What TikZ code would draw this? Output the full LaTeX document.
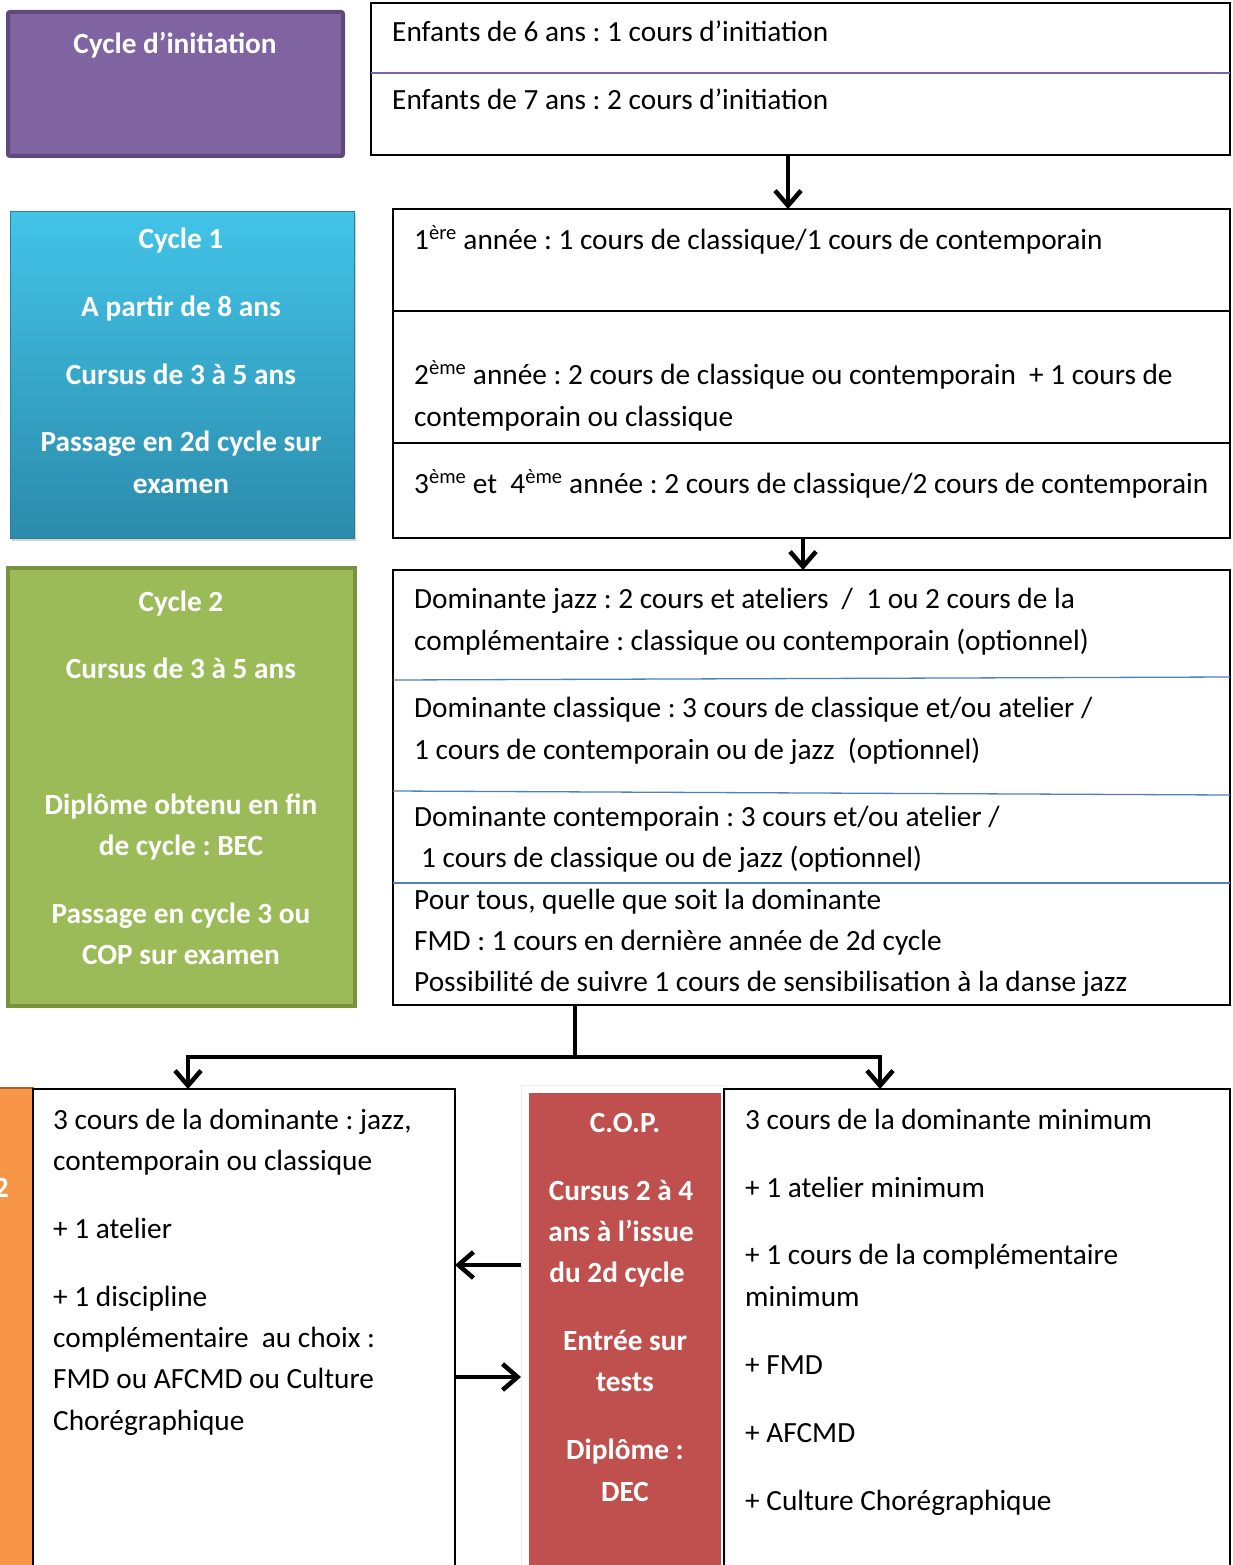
\documentclass[tikz,border=0pt]{standalone}
\usepackage{fontspec}
\setmainfont{Carlito}
\usetikzlibrary{arrows.meta, positioning, shadows}
\frenchspacing

\definecolor{initviolet}{HTML}{8064A2}
\definecolor{initedge}{HTML}{5E4B7E}
\definecolor{cyctop}{HTML}{42C4E8}
\definecolor{cycbot}{HTML}{2C8BAB}
\definecolor{cycedge}{HTML}{2A7F9C}
\definecolor{greenfill}{HTML}{9BBB59}
\definecolor{greenedge}{HTML}{77933C}
\definecolor{orangefill}{HTML}{F79646}
\definecolor{orangeedge}{HTML}{A8632B}
\definecolor{copred}{HTML}{C0504D}
\definecolor{lineblue}{HTML}{4F81BD}

\begin{document}
\begin{tikzpicture}[x=1pt, y=-1pt, >={Straight Barb[length=15pt,width=26pt]},
    tab/.style={draw=black, line width=1.3pt, anchor=north west, inner sep=0pt, outer sep=0pt},
    cyc/.style={anchor=north west, inner sep=0pt, outer sep=0pt},
    txt/.style={anchor=base west, inner sep=0pt, font=\fontsize{29.3}{34}\selectfont},
    hd/.style={anchor=base, inner sep=0pt, text=white, font=\bfseries\fontsize{29.3}{34}\selectfont},
    arr/.style={->, line width=4.5pt, black}]
    \useasboundingbox (0,0) rectangle (1232,1565);
    \clip (0,0) rectangle (1232,1565);

    % 1. Cycle d'initiation
    \node[cyc, minimum width=335pt, minimum height=144pt, fill=initviolet, draw=initedge, line width=4pt, rounded corners=2pt] (initbox) at (8,12) {};
    \node[hd] (initt) at (175,54) {Cycle d’initiation};
    \node[tab, minimum width=859pt, minimum height=152pt] (inittab) at (371,3) {};
    \draw[initviolet, line width=1.3pt] (inittab.west |- 0,73) -- (inittab.east |- 0,73);
    \node[txt] (i1) at (392,42) {Enfants de 6 ans : 1 cours d’initiation};
    \node[txt] (i2) at (392,110) {Enfants de 7 ans : 2 cours d’initiation};

    % 2. Cycle 1
    \node[cyc, minimum width=344pt, minimum height=327pt, top color=cyctop, bottom color=cycbot, draw=cycedge, line width=1pt,
        drop shadow={shadow xshift=2pt, shadow yshift=-3pt, opacity=0.35}] (c1box) at (10,211) {};
    \node[hd] (c1a) at (181,248) {Cycle 1};
    \node[hd] (c1b) at (181,316) {A partir de 8 ans};
    \node[hd] (c1c) at (181,384) {Cursus de 3 à 5 ans};
    \node[hd] (c1d) at (181,451) {Passage en 2d cycle sur};
    \node[hd] (c1e) at (181,493) {examen};
    \node[tab, minimum width=837pt, minimum height=329pt] (c1tab) at (393,209) {};
    \draw[black, line width=1.3pt] (c1tab.west |- 0,311) -- (c1tab.east |- 0,311);
    \draw[black, line width=1.3pt] (c1tab.west |- 0,443) -- (c1tab.east |- 0,443);
    \node[txt] (an1) at (414,249) {1\textsuperscript{ère} année : 1 cours de classique/1 cours de contemporain};
    \node[txt] (an2) at (414,384) {2\textsuperscript{ème} année : 2 cours de classique ou contemporain \ + 1 cours de};
    \node[txt] (an2b) at (414,426) {contemporain ou classique};
    \node[txt] (an3) at (414,493) {3\textsuperscript{ème} et \ 4\textsuperscript{ème} année : 2 cours de classique/2 cours de contemporain};

    % 3. Cycle 2
    \node[cyc, minimum width=347pt, minimum height=438pt, fill=greenfill, draw=greenedge, line width=4pt] (c2box) at (8,568) {};
    \node[hd] (c2a) at (181,611) {Cycle 2};
    \node[hd] (c2b) at (181,678) {Cursus de 3 à 5 ans};
    \node[hd] (c2c) at (181,814) {Diplôme obtenu en fin};
    \node[hd] (c2d) at (181,855) {de cycle : BEC};
    \node[hd] (c2e) at (181,923) {Passage en cycle 3 ou};
    \node[hd] (c2f) at (181,964) {COP sur examen};
    \node[tab, minimum width=837pt, minimum height=435pt] (c2tab) at (393,570) {};
    \draw[lineblue, line width=1.3pt] (c2tab.west |- 0,680) -- (c2tab.east |- 0,677);
    \draw[lineblue, line width=1.3pt] (c2tab.west |- 0,791) -- (c2tab.east |- 0,795);
    \draw[lineblue, line width=1.3pt] (c2tab.west |- 0,883) -- (c2tab.east |- 0,883);
    \node[txt] (dj1) at (414,608) {Dominante jazz : 2 cours et ateliers \ / \ 1 ou 2 cours de la};
    \node[txt] (dj2) at (414,650) {complémentaire : classique ou contemporain (optionnel)};
    \node[txt] (dc1) at (414,717) {Dominante classique : 3 cours de classique et/ou atelier /};
    \node[txt] (dc2) at (414,759) {1 cours de contemporain ou de jazz \ (optionnel)};
    \node[txt] (dk1) at (414,826) {Dominante contemporain : 3 cours et/ou atelier /};
    \node[txt] (dk2) at (421,867) {1 cours de classique ou de jazz (optionnel)};
    \node[txt] (pt1) at (414,909) {Pour tous, quelle que soit la dominante};
    \node[txt] (pt2) at (414,950) {FMD : 1 cours en dernière année de 2d cycle};
    \node[txt] (pt3) at (414,991) {Possibilité de suivre 1 cours de sensibilisation à la danse jazz};

    % 4. Cycle 3 et C.O.P.
    \node[cyc, minimum width=60pt, minimum height=520pt, fill=orangefill, draw=orangeedge, line width=2pt] (c3box) at (-27,1088) {};
    \node[hd, anchor=base east] (c3a) at (9,1197) {2};
    \node[tab, minimum width=422pt, minimum height=520pt] (c3tab) at (33,1089) {};
    \node[txt] (t1) at (53,1129) {3 cours de la dominante : jazz,};
    \node[txt] (t2) at (53,1170) {contemporain ou classique};
    \node[txt] (t3) at (53,1238) {+ 1 atelier};
    \node[txt] (t4) at (53,1306) {+ 1 discipline};
    \node[txt] (t5) at (53,1347) {complémentaire \ au choix :};
    \node[txt] (t6) at (53,1388) {FMD ou AFCMD ou Culture};
    \node[txt] (t7) at (53,1430) {Chorégraphique};

    \node[cyc, minimum width=204pt, minimum height=520pt, fill=white, draw=black!8, line width=1pt,
        drop shadow={shadow xshift=0pt, shadow yshift=0pt, opacity=0.15}] (copframe) at (521,1085) {};
    \node[cyc, minimum width=192pt, minimum height=520pt, fill=copred] (cop) at (529,1093) {};
    \node[hd] (cp1) at (625,1132) {C.O.P.};
    \node[hd] (cp2) at (621,1200) {Cursus 2 à 4};
    \node[hd] (cp3) at (621,1241) {ans à l’issue};
    \node[hd] (cp4) at (617,1282) {du 2d cycle};
    \node[hd] (cp5) at (625,1350) {Entrée sur};
    \node[hd] (cp6) at (625,1391) {tests};
    \node[hd] (cp7) at (625,1459) {Diplôme :};
    \node[hd] (cp8) at (625,1501) {DEC};
    \node[tab, minimum width=506pt, minimum height=520pt] (coptab) at (724,1089) {};
    \node[txt] (r1) at (745,1129) {3 cours de la dominante minimum};
    \node[txt] (r2) at (745,1197) {+ 1 atelier minimum};
    \node[txt] (r3) at (745,1264) {+ 1 cours de la complémentaire};
    \node[txt] (r4) at (745,1306) {minimum};
    \node[txt] (r5) at (745,1374) {+ FMD};
    \node[txt] (r6) at (745,1442) {+ AFCMD};
    \node[txt] (r7) at (745,1510) {+ Culture Chorégraphique};

    % 5. Flèches
    \coordinate (down1) at (788,0);
    \coordinate (down2) at (803,0);
    \coordinate (split) at (575,1057);
    \coordinate (lft) at (188,1057);
    \coordinate (rgt) at (880,1057);
    \coordinate (back) at (0,1265);
    \coordinate (into) at (0,1377);
    \draw[arr] (inittab.south -| down1) -- (c1tab.north -| down1);
    \draw[arr] (c1tab.south -| down2) -- (c2tab.north -| down2);
    \draw[line width=4.5pt] (c2tab.south -| split) -- (split);
    \draw[arr] (split) -- (lft) -- (c3tab.north -| lft);
    \draw[arr] (split) -- (rgt) -- (coptab.north -| rgt);
    \draw[arr] (copframe.west |- back) -- (c3tab.east |- back);
    \draw[arr] (c3tab.east |- into) -- (copframe.west |- into);
\end{tikzpicture}
\end{document}
